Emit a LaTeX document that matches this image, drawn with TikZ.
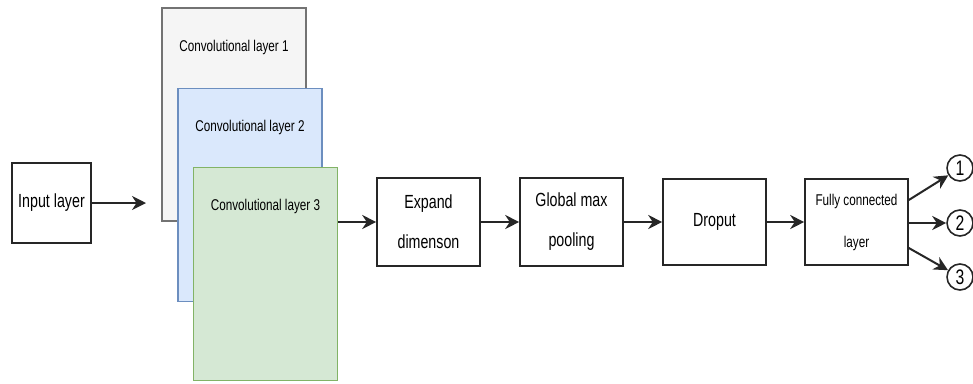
\documentclass[tikz,border=0pt]{standalone}
\usepackage{fontspec}
\setmainfont{Liberation Sans}[FakeStretch=0.75]
\usetikzlibrary{arrows.meta, calc, positioning}
\definecolor{convone}{HTML}{F5F5F5}
\definecolor{convtwo}{HTML}{DAE8FC}
\definecolor{convthree}{HTML}{D5E8D4}
\definecolor{convtwoline}{HTML}{6C8EBF}
\definecolor{convthreeline}{HTML}{82B366}
\newcommand{\bigfont}{\fontsize{19}{40}\selectfont}
\newcommand{\smallfont}{\fontsize{15.6}{42}\selectfont}
\tikzset{
    node distance = 38.4pt,% gap between the boxes of the main row
    layer/.style = {rectangle, draw=black!85, line width=1.6pt, minimum width=103pt, minimum height=88pt, inner sep=0pt, align=center, font=\bigfont},
    conv/.style = {rectangle, line width=1.4pt, minimum width=144pt, minimum height=213pt, inner sep=0pt}, % stacked convolution sheets
    outnode/.style = {circle, draw=black!85, line width=1.6pt, minimum size=26pt, inner sep=0pt, font=\fontsize{21}{24}\selectfont},
    flow/.style = {-{Stealth[length=14pt, width=14pt]}, line width=2pt, draw=black!85},
    convlabel/.style = {anchor=center, yshift=-40pt, font=\smallfont}
}
\begin{document}
\begin{tikzpicture}[x=1pt, y=-1pt]
    \useasboundingbox (0,0) rectangle (973,383);
    \node [layer, minimum width=79pt, minimum height=80pt] (input) at (51.5,203) {Input layer};
    \coordinate (convin) at (146,203);
    \node [conv, fill=convone, draw=black!55, label={[convlabel]north:Convolutional layer 1}] (conv1) at (234,114.5) {};
    \node [conv, fill=convtwo, draw=convtwoline, label={[convlabel]north:Convolutional layer 2}] (conv2) at ($(conv1)+(16,80.5)$) {};
    \node [conv, fill=convthree, draw=convthreeline, label={[convlabel]north:Convolutional layer 3}] (conv3) at ($(conv2)+(15.5,79)$) {};
    \node [layer] (expand) at (428.5,222) {Expand\\dimenson};
    \node [layer, right=of expand] (pool) {Global max\\pooling};
    \node [layer, minimum height=86pt, right=of pool] (dropout) {Droput};
    \node [layer, minimum height=86pt, font=\smallfont, right=37.4pt of dropout] (dense) {Fully connected\\layer};
    \node [outnode] (out1) at (960,168) {1};
    \node [outnode] (out2) at (960,223) {2};
    \node [outnode] (out3) at (960,277) {3};
    \draw [flow] (input) -- (convin);
    \draw [flow] (conv3.east |- expand.west) -- (expand.west);
    \draw [flow] (expand) -- (pool);
    \draw [flow] (pool) -- (dropout);
    \draw [flow] (dropout) -- (dense);
    \draw [flow] ($(dense.east)+(0,-22)$) -- (out1);
    \draw [flow] (dense.east |- out2) -- (out2);
    \draw [flow] ($(dense.east)+(0,26)$) -- (out3);
\end{tikzpicture}
\end{document}
